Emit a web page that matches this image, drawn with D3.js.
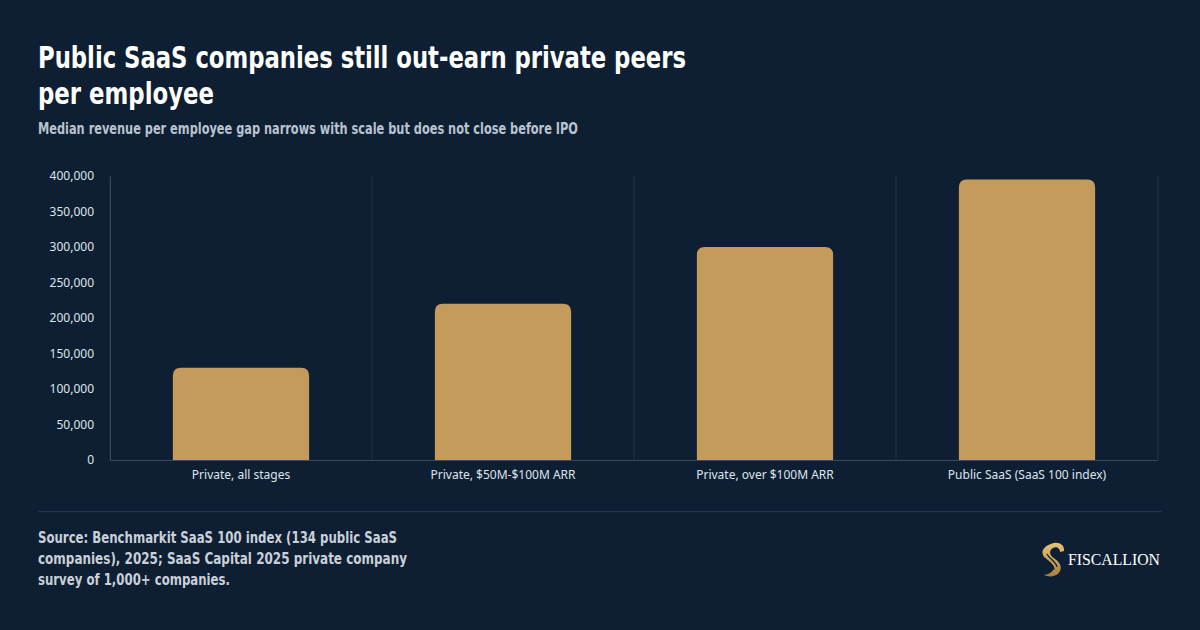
<!DOCTYPE html>
<html>
<head>
<meta charset="utf-8">
<script src="https://cdn.jsdelivr.net/npm/d3@7"></script>
<style>
  html, body { margin: 0; padding: 0; background: #0e1f33; }
  svg { display: block; }
  .title { font-family: "DejaVu Sans Condensed", "DejaVu Sans", sans-serif; font-weight: 700; fill: #ffffff; }
  .subtitle { font-family: "DejaVu Sans Condensed", "DejaVu Sans", sans-serif; font-weight: 700; fill: #b9c3cf; }
  .source { font-family: "DejaVu Sans Condensed", "DejaVu Sans", sans-serif; font-weight: 700; fill: #c9d0d9; }
  .tick text { font-family: "Noto Sans", "Open Sans", sans-serif; font-size: 12px; fill: #dfe4ea; }
  .brand { font-family: "Liberation Serif", "DejaVu Serif", serif; fill: #ffffff; }
</style>
</head>
<body>
<div id="container"></div>
<script>
const categories = ['Private, all stages', 'Private, $50M-$100M ARR', 'Private, over $100M ARR', 'Public SaaS (SaaS 100 index)'];
const revenuePerEmployee = [130000, 220000, 300000, 395000];
const yTicks = [0, 50000, 100000, 150000, 200000, 250000, 300000, 350000, 400000];
const titleLines = ['Public SaaS companies still out-earn private peers', 'per employee'];
const subtitle = 'Median revenue per employee gap narrows with scale but does not close before IPO';
const sourceLines = ['Source: Benchmarkit SaaS 100 index (134 public SaaS', 'companies), 2025; SaaS Capital 2025 private company', 'survey of 1,000+ companies.'];

// widths the condensed display face takes in the reference
const titleWidths = [648, 176];
const sourceWidths = [359, 369, 192];

const W = 1200, H = 630;
const plot = { left: 110, right: 1158, top: 176, bottom: 460 };

const svg = d3.select('#container').append('svg')
  .attr('width', W)
  .attr('height', H);

svg.append('rect').attr('width', W).attr('height', H).attr('fill', '#0e1f33');

// titles
svg.selectAll('.title').data(titleLines).enter()
  .append('text')
  .attr('class', 'title')
  .attr('x', 38)
  .attr('y', (d, i) => 68 + i * 36)
  .attr('font-size', 30)
  .attr('textLength', (d, i) => titleWidths[i])
  .attr('lengthAdjust', 'spacingAndGlyphs')
  .text(d => d);

svg.append('text')
  .attr('class', 'subtitle')
  .attr('x', 38)
  .attr('y', 134)
  .attr('font-size', 15)
  .attr('textLength', 540)
  .attr('lengthAdjust', 'spacingAndGlyphs')
  .text(subtitle);

const x = d3.scaleBand()
  .domain(categories)
  .range([plot.left, plot.right])
  .paddingInner(0.48)
  .paddingOuter(0.24);

const y = d3.scaleLinear()
  .domain([0, 400000])
  .range([plot.bottom, plot.top]);

// vertical separators between categories
const step = x.step();
const edges = d3.range(categories.length + 1).map(i => plot.left + i * step);
svg.append('g').selectAll('line').data(edges).enter()
  .append('line')
  .attr('x1', d => d).attr('x2', d => d)
  .attr('y1', plot.top).attr('y2', plot.bottom)
  .attr('stroke', '#253447')
  .attr('stroke-width', 1);

// bars with rounded tops
const r = 8;
svg.append('g').selectAll('path').data(categories).enter()
  .append('path')
  .attr('fill', '#c49b5b')
  .attr('d', (c, i) => {
    const x0 = x(c), x1 = x0 + x.bandwidth();
    const y0 = y(revenuePerEmployee[i]), yb = y(0);
    return `M${x0},${yb} V${y0 + r} Q${x0},${y0} ${x0 + r},${y0} H${x1 - r} Q${x1},${y0} ${x1},${y0 + r} V${yb} Z`;
  });

// y axis
const yAxis = svg.append('g')
  .attr('transform', `translate(${plot.left},0)`)
  .call(d3.axisLeft(y).tickValues(yTicks).tickFormat(d3.format(',')).tickSize(0).tickPadding(16));
yAxis.select('.domain').attr('stroke', '#3a495b');

// x axis
const xAxis = svg.append('g')
  .attr('transform', `translate(0,${plot.bottom})`)
  .call(d3.axisBottom(x).tickSize(0).tickPadding(10));
xAxis.select('.domain').attr('stroke', '#3a495b').attr('d', `M${plot.left},0.5H${plot.right}`);

// footer rule
svg.append('line')
  .attr('x1', 38).attr('x2', 1162)
  .attr('y1', 511.5).attr('y2', 511.5)
  .attr('stroke', '#22334a')
  .attr('stroke-width', 1.5);

svg.selectAll('.source').data(sourceLines).enter()
  .append('text')
  .attr('class', 'source')
  .attr('x', 38)
  .attr('y', (d, i) => 543 + i * 21)
  .attr('font-size', 16)
  .attr('textLength', (d, i) => sourceWidths[i])
  .attr('lengthAdjust', 'spacingAndGlyphs')
  .text(d => d);

// logo
const defs = svg.append('defs');
const grad = defs.append('linearGradient').attr('id', 'gold').attr('x1', 0).attr('y1', 0).attr('x2', 0).attr('y2', 1);
grad.append('stop').attr('offset', '0%').attr('stop-color', '#e6c477');
grad.append('stop').attr('offset', '100%').attr('stop-color', '#a9803c');

const logo = svg.append('g').attr('transform', 'translate(1041,542)');
logo.append('path')
  .attr('fill', 'url(#gold)')
  .attr('d', 'M10,2 C16,-1 24,2 23,9 L19,10 C19,6 15,4 12,6 C7,9 9,14 14,17 C20,21 22,27 17,32 C13,35 7,35 3,33 C9,32 14,29 12,24 C10,20 4,18 2,13 C0,8 4,4 10,2 Z');
logo.append('path')
  .attr('fill', 'none')
  .attr('stroke', '#0e1f33')
  .attr('stroke-width', 1.2)
  .attr('d', 'M6,12 C8,17 15,19 16,25 M4,16 C7,20 13,22 13,28');

svg.append('text')
  .attr('class', 'brand')
  .attr('x', 1068)
  .attr('y', 565)
  .attr('font-size', 17)
  .attr('textLength', 92)
  .attr('lengthAdjust', 'spacingAndGlyphs')
  .text('FISCALLION');
</script>
</body>
</html>
